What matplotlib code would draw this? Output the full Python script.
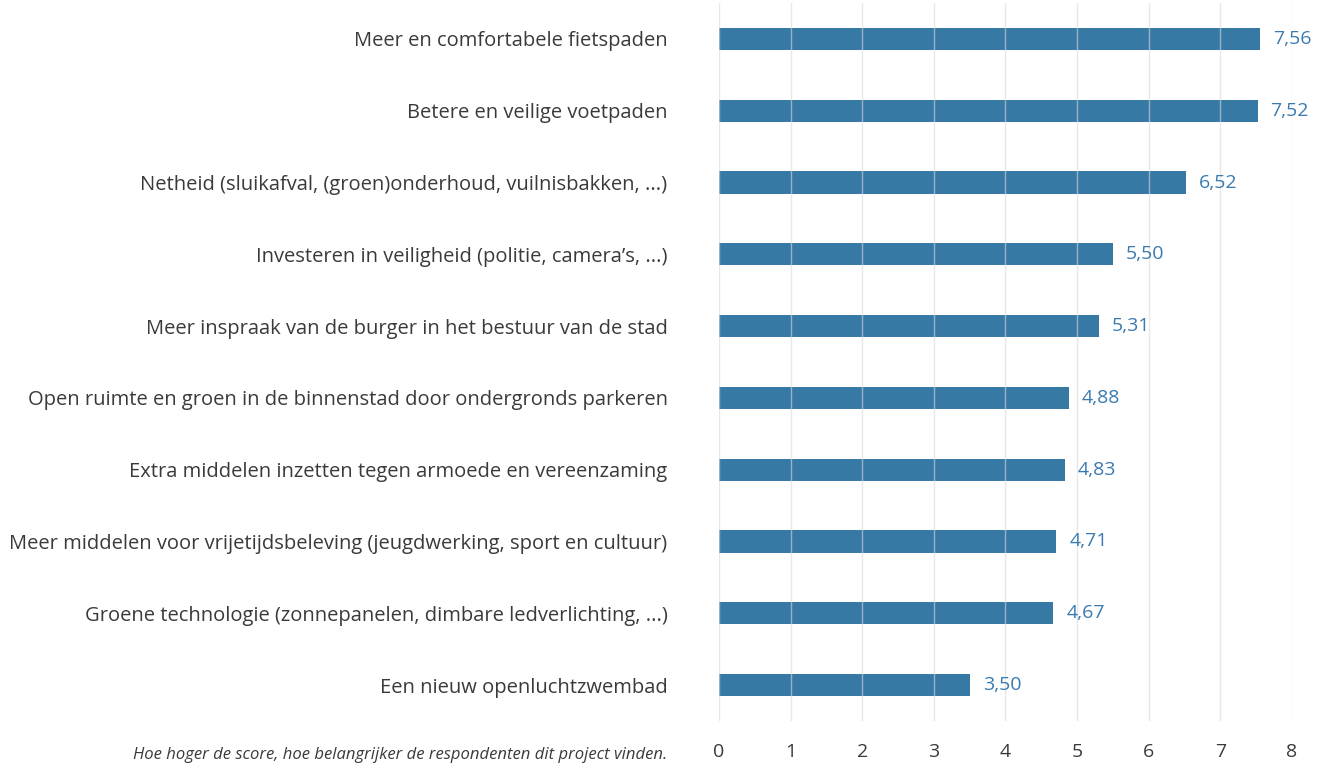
import matplotlib
matplotlib.use("Agg")
import matplotlib.pyplot as plt
from matplotlib import font_manager

categories = [
    "Meer en comfortabele fietspaden",
    "Betere en veilige voetpaden",
    "Netheid (sluikafval, (groen)onderhoud, vuilnisbakken, ...)",
    "Investeren in veiligheid (politie, camera’s, ...)",
    "Meer inspraak van de burger in het bestuur van de stad",
    "Open ruimte en groen in de binnenstad door ondergronds parkeren",
    "Extra middelen inzetten tegen armoede en vereenzaming",
    "Meer middelen voor vrijetijdsbeleving (jeugdwerking, sport en cultuur)",
    "Groene technologie (zonnepanelen, dimbare ledverlichting, ...)",
    "Een nieuw openluchtzwembad",
]
values = [7.56, 7.52, 6.52, 5.50, 5.31, 4.88, 4.83, 4.71, 4.67, 3.50]
xticks = [0, 1, 2, 3, 4, 5, 6, 7, 8]
footnote = "Hoe hoger de score, hoe belangrijker de respondenten dit project vinden."

names = {f.name for f in font_manager.fontManager.ttflist}
fam = "Liberation Sans Narrow" if "Liberation Sans Narrow" in names else "Open Sans"
plt.rcParams['font.family'] = [fam, 'DejaVu Sans']

bar_color = "#3779a5"
label_color = "#3a7ab0"
text_color = "#3a3a3a"

fig = plt.figure(figsize=(13.27, 7.69), dpi=100)
ax = fig.add_axes([719/1327, 1-721/769, (1292-719)/1327, (721-3)/769])

y = list(range(len(values)))
ax.barh(y, values, height=0.31, color=bar_color, zorder=2)
for yi, v in zip(y, values):
    ax.text(v + 0.18, yi, f"{v:.2f}".replace(".", ","), va="center", ha="left",
            color=label_color, fontsize=14)

ax.set_xlim(0, 8)
ax.set_ylim(len(values) - 0.5, -0.5)
ax.set_xticks(xticks)
ax.set_xticklabels([str(t) for t in xticks], fontsize=14, color=text_color)
ax.set_yticks(y)
ax.set_yticklabels(categories, fontsize=14.5, color=text_color)
ax.tick_params(axis="both", length=0)
ax.tick_params(axis="y", pad=37)
ax.tick_params(axis="x", pad=16)
ax.grid(axis="x", color="#d9d9d9", linewidth=1, zorder=3, alpha=0.6)
ax.set_axisbelow(False)
for s in ax.spines.values():
    s.set_visible(False)

fig.text(667/1327, 1-755/769, footnote, ha="right", va="center",
         fontsize=12, style="italic", color=text_color)

fig.savefig("out.png", dpi=100)
